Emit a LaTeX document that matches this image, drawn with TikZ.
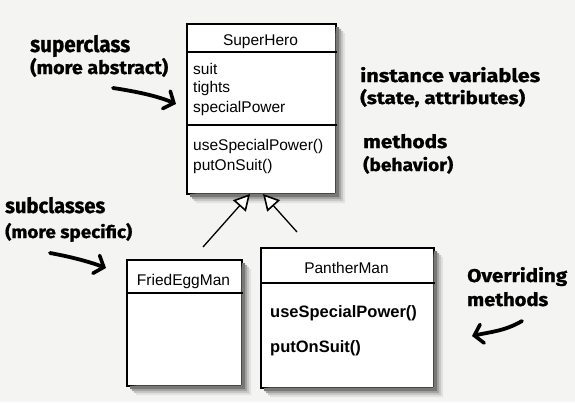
\documentclass[tikz,border=0pt]{standalone}
\usepackage{fontspec}
\setmainfont{Liberation Sans}
\newfontfamily\hand{Fira Sans Bold}[FakeBold=1]
\usepackage{graphicx}
\usetikzlibrary{arrows.meta}
\definecolor{bg}{RGB}{244,244,242}
\definecolor{shadeA}{RGB}{226,226,224}
\definecolor{shadeB}{RGB}{200,200,198}
\definecolor{shadeC}{RGB}{165,165,163}
\definecolor{shadeD}{RGB}{120,120,118}
\newcommand{\hw}[3]{\resizebox{#1pt}{#2pt}{\hand #3}}
% L-shaped shadow strip right of and below a box (x1,y1)-(x2,y2), depth #5, colour #6
\newcommand{\lshadow}[6]{%
  \fill[#6] ({#3+0.8},{#2+#5}) -- ({#3+#5},{#2+#5}) -- ({#3+#5},{#4+#5})
     -- ({#1+#5},{#4+#5}) -- ({#1+#5},{#4+0.8}) -- ({#3+0.8},{#4+0.8}) -- cycle;}
\newcommand{\boxshadow}[4]{%
  \lshadow{#1}{#2}{#3}{#4}{10}{shadeA}%
  \lshadow{#1}{#2}{#3}{#4}{8}{shadeB}%
  \lshadow{#1}{#2}{#3}{#4}{6}{shadeC}%
  \lshadow{#1}{#2}{#3}{#4}{4}{shadeD}}
\begin{document}
\begin{tikzpicture}[x=1pt,y=-1pt,
  umlbox/.style={draw, line width=1.6pt, fill=white, anchor=north west, inner sep=0pt},
  divider/.style={line width=1.6pt},
  cls/.style={font=\fontsize{15.5}{18}\selectfont, inner sep=0pt, anchor=base},
  attr/.style={font=\fontsize{15.5}{18}\selectfont, inner sep=0pt, anchor=base west},
  battr/.style={font=\fontsize{16.5}{19}\selectfont\bfseries, inner sep=0pt, anchor=base west},
  lbl/.style={inner sep=0pt, anchor=base west},
  inh/.style={line width=1.3pt, -{Triangle[open, fill=white, length=16pt, width=17pt, line width=1.6pt]}},
  harrow/.style={line width=3.8pt, line cap=round, -{Straight Barb[length=8pt, width=19pt, line width=3.6pt, line cap=round]}}
]
\fill[bg] (0,0) rectangle (575,402);
\useasboundingbox (0,0) rectangle (575,402);

% SuperHero
\node[umlbox, minimum width=149pt, minimum height=170pt] (sh) at (186,23) {};
\boxshadow{186}{23}{335}{193}
\draw[divider] (sh.west |- 0,52) -- (sh.east |- 0,52);
\draw[divider] (sh.west |- 0,125) -- (sh.east |- 0,125);
\node[cls] (shname) at (260.5,45) {SuperHero};
\node[attr] (a1) at (193,74) {suit};
\node[attr] (a2) at (193,92) {tights};
\node[attr] (a3) at (193,112) {specialPower};
\node[attr] (m1) at (193,150) {useSpecialPower()};
\node[attr] (m2) at (193,170) {putOnSuit()};

% FriedEggMan
\node[umlbox, minimum width=115pt, minimum height=126pt] (fem) at (126,259) {};
\boxshadow{126}{259}{241}{385}
\draw[divider] (fem.west |- 0,293) -- (fem.east |- 0,293);
\node[cls] (femname) at (183.5,285) {FriedEggMan};

% PantherMan
\node[umlbox, minimum width=173pt, minimum height=140pt] (pm) at (260,247) {};
\boxshadow{260}{247}{433}{387}
\draw[divider] (pm.west |- 0,283) -- (pm.east |- 0,283);
\node[cls] (pmname) at (346.5,273) {PantherMan};
\node[battr] (pm1) at (270,317) {useSpecialPower()};
\node[battr] (pm2) at (270,352) {putOnSuit()};

% inheritance
\coordinate (femfrom) at (203,247);
\coordinate (pmfrom) at (297,232);
\coordinate (tip1) at (250,194);
\coordinate (tip2) at (263,194);
\draw[inh] (femfrom) -- (tip1);
\draw[inh] (pmfrom) -- (tip2);

% labels
\node[lbl] (l1) at (30,52) {\hw{100}{17}{superclass}};
\node[lbl] (l2) at (30,74) {\hw{138}{16}{(more abstract)}};
\node[lbl] (l3) at (360,82) {\hw{180}{15}{instance variables}};
\node[lbl] (l4) at (360,104) {\hw{165}{15}{(state, attributes)}};
\node[lbl] (l5) at (363,148) {\hw{84}{14}{methods}};
\node[lbl] (l6) at (363,171) {\hw{90}{15}{(behavior)}};
\node[lbl] (l7) at (5,213) {\hw{100}{16}{subclasses}};
\node[lbl] (l8) at (5,238) {\hw{127}{15}{(more specific)}};
\node[lbl] (l9) at (467,282) {\hw{100}{15}{Overriding}};
\node[lbl] (l10) at (467,306) {\hw{81}{14}{methods}};

% hand arrows
\coordinate (s1) at (113,88);  \coordinate (e1) at (176,104);
\coordinate (s2) at (50,253);  \coordinate (e2) at (106,268);
\coordinate (s3) at (522,321); \coordinate (e3) at (472,336);
\draw[harrow] (s1) .. controls (140,92) and (160,97) .. (e1);
\draw[harrow] (s2) .. controls (72,257) and (90,262) .. (e2);
\draw[harrow] (s3) .. controls (505,331) and (490,332) .. (e3);
\end{tikzpicture}
\end{document}
